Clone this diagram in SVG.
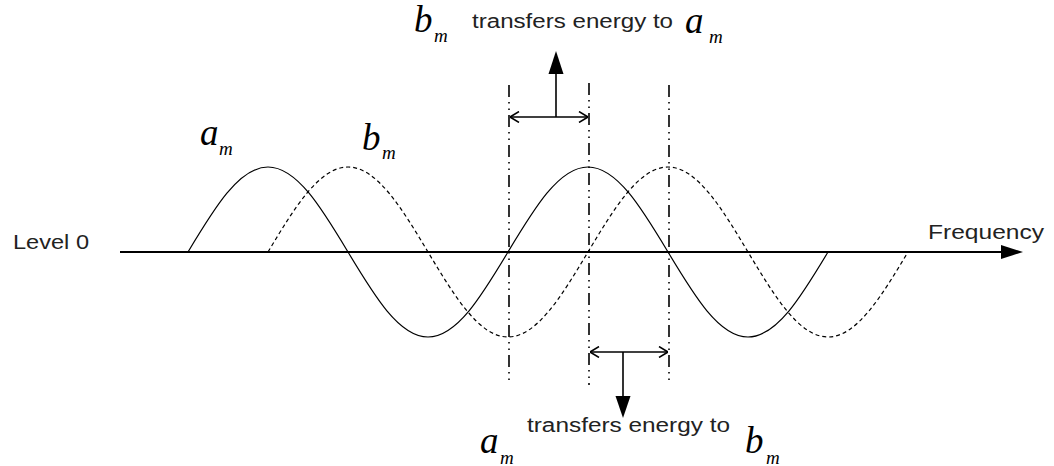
<svg xmlns="http://www.w3.org/2000/svg" width="1054" height="466" viewBox="0 0 1054 466">
<style>
.lbl{font-family:"Liberation Sans",Arial,sans-serif;font-size:20px;fill:#222}
.mi{font-family:"Liberation Serif","Times New Roman",serif;font-style:italic;font-size:37px;fill:#000}
.ms{font-family:"Liberation Serif","Times New Roman",serif;font-style:italic;font-size:19px;fill:#000}
.curve{fill:none;stroke:#000;stroke-width:1.2}
.dash{stroke-dasharray:4 3}
.dd{stroke:#000;stroke-width:1.6;stroke-dasharray:12 5 1.5 5 1.5 5;fill:none}
.ln{stroke:#000;stroke-width:1.6;fill:none}
</style>
<defs>
<marker id="open" viewBox="0 0 10 12" refX="10" refY="6" markerWidth="10" markerHeight="12" markerUnits="userSpaceOnUse" orient="auto-start-reverse">
<path d="M1,0.5 L10,6 L1,11.5" fill="none" stroke="#000" stroke-width="1.5"/>
</marker>
</defs>
<rect width="1054" height="466" fill="#fff"/>
<g id="axis">
<line x1="120" y1="252" x2="1003" y2="252" stroke="#000" stroke-width="2"/>
<polygon points="1001,245 1023,252 1001,259" fill="#000"/>
<text class="lbl" x="13" y="249" textLength="76" lengthAdjust="spacingAndGlyphs">Level 0</text>
<text class="lbl" x="928" y="239" textLength="116" lengthAdjust="spacingAndGlyphs">Frequency</text>
</g>
<g id="wave-a">
<path class="curve" d="M188,252 C214.09,208.5 239.05,167 268,167 S321.91,208.5 348,252 S399.05,337 428,337 S481.91,295.5 508,252 S559.05,167 588,167 S641.91,208.5 668,252 S719.05,337 748,337 S801.91,295.5 828,252"/>
<text class="mi" x="200" y="145">a</text><text class="ms" x="219" y="155">m</text>
</g>
<g id="wave-b">
<path class="curve dash" d="M268,252 C294.09,208.5 319.05,167 348,167 S401.91,208.5 428,252 S479.05,337 508,337 S561.91,295.5 588,252 S639.05,167 668,167 S721.91,208.5 748,252 S799.05,337 828,337 S881.91,295.5 908,252"/>
<text class="mi" x="362" y="150">b</text><text class="ms" x="382" y="159">m</text>
</g>
<g id="guides">
<line class="dd" x1="509" y1="85" x2="509" y2="385"/>
<line class="dd" x1="589" y1="83" x2="589" y2="385"/>
<line class="dd" x1="669" y1="85" x2="669" y2="385"/>
</g>
<g id="connectors">
<line class="ln" x1="510" y1="117" x2="588" y2="117" marker-start="url(#open)" marker-end="url(#open)"/>
<line class="ln" x1="556" y1="117" x2="556" y2="72"/>
<polygon points="548.5,74 556,51 563.5,74" fill="#000"/>
<line class="ln" x1="590" y1="352" x2="668" y2="352" marker-start="url(#open)" marker-end="url(#open)"/>
<line class="ln" x1="623" y1="352" x2="623" y2="398"/>
<polygon points="615.5,396 623,418 630.5,396" fill="#000"/>
</g>
<g id="label-top">
<text class="mi" x="414" y="32">b</text><text class="ms" x="434" y="42">m</text>
<text class="lbl" x="472" y="28" textLength="201" lengthAdjust="spacingAndGlyphs">transfers energy to</text>
<text class="mi" x="685" y="33">a</text><text class="ms" x="709" y="43">m</text>
</g>
<g id="label-bottom">
<text class="mi" x="480" y="453">a</text><text class="ms" x="500" y="464">m</text>
<text class="lbl" x="527" y="432" textLength="203" lengthAdjust="spacingAndGlyphs">transfers energy to</text>
<text class="mi" x="745" y="453">b</text><text class="ms" x="766" y="464">m</text>
</g>
</svg>
